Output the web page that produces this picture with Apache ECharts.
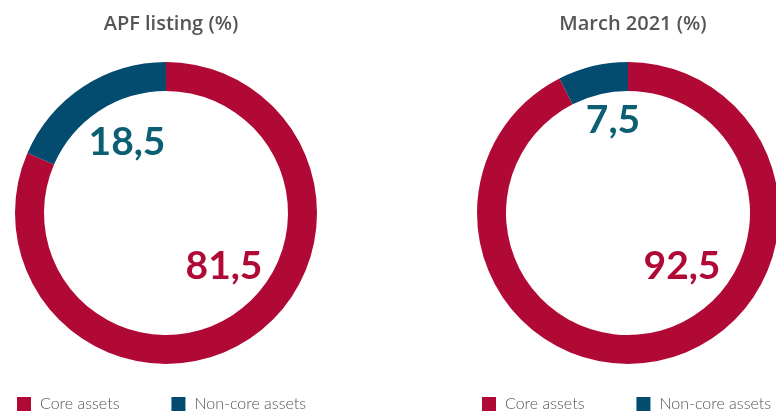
<!DOCTYPE html>
<html>
<head>
<meta charset="utf-8">
<script src="https://cdn.jsdelivr.net/npm/echarts@6/dist/echarts.min.js"></script>
<style>
  html, body { margin: 0; padding: 0; background: #fff; }
  #chart { width: 776px; height: 411px; }
</style>
</head>
<body>
<div id="chart"></div>
<script>
// data
var categories = ['Core assets', 'Non-core assets'];
var chartTitles = ['APF listing (%)', 'March 2021 (%)'];
var listingValues = [81.5, 18.5];
var march2021Values = [92.5, 7.5];

var colors = ['#B00935', '#034C70'];
var labelColors = ['#B00935', '#0C5E73'];
// where the big numbers sit (per chart, per slice)
var labelSpots = [
  [[224, 266], [127, 142]],
  [[682, 266], [613, 120]]
];
var centers = [[166, 213], [628, 213]];

function pieData(values) {
  return categories.map(function (name, i) {
    return {
      name: name,
      value: values[i],
      itemStyle: { color: colors[i] },
      label: { color: labelColors[i] }
    };
  });
}

function makeSeries(values, idx) {
  return {
    type: 'pie',
    name: chartTitles[idx],
    center: centers[idx],
    radius: [122, 151],
    startAngle: 90,
    clockwise: true,
    silent: true,
    avoidLabelOverlap: false,
    itemStyle: { borderWidth: 0 },
    emphasis: { disabled: true },
    labelLine: { show: false },
    label: {
      show: true,
      position: 'inside',
      fontFamily: 'Lato',
      fontWeight: 'bold',
      fontSize: 39,
      formatter: function (p) { return String(p.value).replace('.', ','); }
    },
    labelLayout: function (p) {
      var spot = labelSpots[idx][p.dataIndex];
      return { x: spot[0], y: spot[1], align: 'center', verticalAlign: 'middle' };
    },
    data: pieData(values)
  };
}

var chart = echarts.init(document.getElementById('chart'));
chart.setOption({
  animation: false,
  title: chartTitles.map(function (t, i) {
    return {
      text: t,
      left: centers[i][0],
      top: 9,
      textAlign: 'center',
      textStyle: { fontFamily: 'Open Sans', fontWeight: 600, fontSize: 20, color: '#555' }
    };
  }),
  legend: [12, 477].map(function (x) {
    return {
      left: x,
      top: 391,
      width: 400,
      data: categories,
      icon: 'rect',
      itemWidth: 14,
      itemHeight: 14,
      itemGap: 52,
      selectedMode: false,
      textStyle: { fontFamily: 'Lato', fontWeight: 300, fontSize: 16, color: '#555', padding: [0, 0, 0, 4] }
    };
  }),
  series: [makeSeries(listingValues, 0), makeSeries(march2021Values, 1)]
});
</script>
</body>
</html>
